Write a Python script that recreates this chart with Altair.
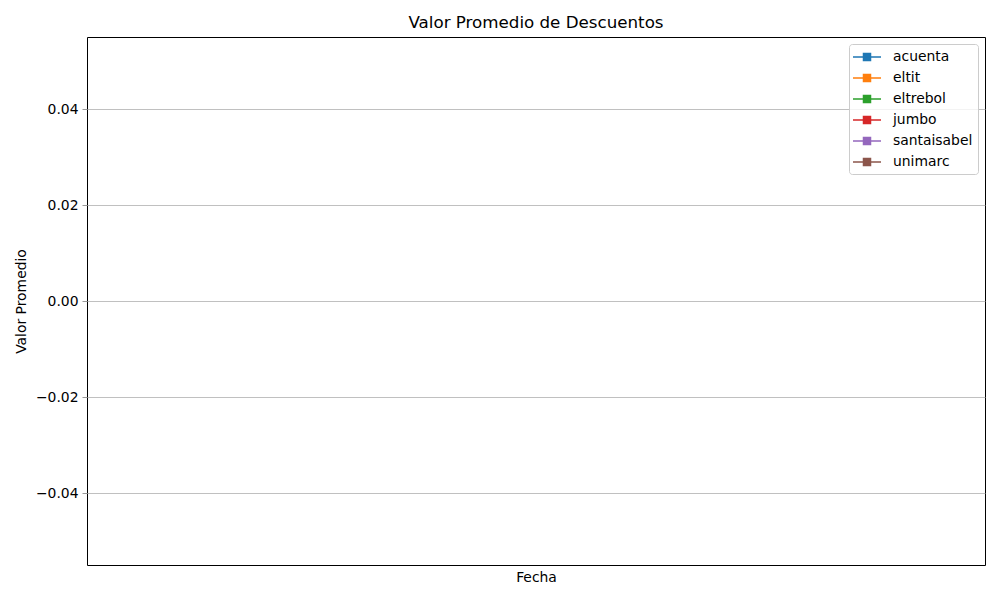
import altair as alt
import pandas as pd

# Chart content (the reference shows no data points, only the legend entries)
series = ["acuenta", "eltit", "eltrebol", "jumbo", "santaisabel", "unimarc"]
colors = ["#1f77b4", "#ff7f0e", "#2ca02c", "#d62728", "#9467bd", "#8c564b"]
fechas = [None] * len(series)
valores = [None] * len(series)
y_ticks = [-0.04, -0.02, 0.0, 0.02, 0.04]
y_domain = [-0.055, 0.055]

df = pd.DataFrame({"supermercado": series, "fecha": fechas, "valor": valores})

FONT = "DejaVu Sans"
sym_path = "M-2,0H2M-0.5,-0.5H0.5V0.5H-0.5Z"


def make_legend():
    return alt.Legend(
        title=None,
        orient="top-right",
        offset=7,
        padding=5,
        rowPadding=6,
        symbolType=sym_path,
        symbolSize=196,
        symbolStrokeWidth=1.5,
        symbolOffset=5,
        symbolOpacity=1,
        labelOffset=18,
        labelFont=FONT,
        labelFontSize=13.9,
        labelColor="black",
        labelLimit=200,
        fillColor="rgba(255,255,255,0.8)",
        strokeColor="#cccccc",
        cornerRadius=3,
    )


scale = alt.Scale(domain=series, range=colors)

chart = (
    alt.Chart(df)
    .mark_point(shape="square", filled=True, opacity=1)
    .encode(
        x=alt.X(
            "fecha:Q",
            scale=alt.Scale(domain=[0, 1]),
            axis=alt.Axis(
                title="Fecha",
                labels=False,
                ticks=False,
                grid=False,
                domain=False,
                titleFont=FONT,
                titleFontSize=13.9,
                titleFontWeight="normal",
                titleColor="black",
                titleX=449,
                titleY=12,
                titleBaseline="middle",
                titleAlign="center",
            ),
        ),
        y=alt.Y(
            "valor:Q",
            scale=alt.Scale(domain=y_domain, nice=False, zero=False),
            axis=alt.Axis(
                title="Valor Promedio",
                values=y_ticks,
                labelExpr="replace(format(datum.value, '.2f'), '-', '\u2212')",
                labelFont=FONT,
                labelFontSize=13.9,
                labelColor="black",
                labelPadding=4,
                tickSize=5,
                tickColor="#999999",
                grid=True,
                gridColor="#b0b0b0",
                gridWidth=0.8,
                domain=False,
                titleFont=FONT,
                titleFontSize=13.9,
                titleFontWeight="normal",
                titleColor="black",
                titleX=-66,
                titleY=264,
                titleAngle=270,
                titleBaseline="middle",
                titleAlign="center",
            ),
        ),
        fill=alt.Fill("supermercado:N", scale=scale, legend=make_legend()),
        stroke=alt.Stroke("supermercado:N", scale=scale, legend=make_legend()),
    )
    .properties(
        width=898,
        height=528,
        title=alt.TitleParams(
            "Valor Promedio de Descuentos",
            font=FONT,
            fontSize=16.7,
            fontWeight="normal",
            color="black",
            anchor="middle",
            offset=5,
        ),
        view=alt.ViewBackground(stroke="black", strokeWidth=1, strokeOpacity=1),
        autosize=alt.AutoSizeParams(type="none"),
        padding={"left": 87, "top": 37, "right": 15, "bottom": 35},
    )
    .configure_view(stroke="black", strokeWidth=1, strokeOpacity=1)
    .configure(background="white")
)

chart.save("out.html", embed_options={"renderer": "svg", "actions": False})
